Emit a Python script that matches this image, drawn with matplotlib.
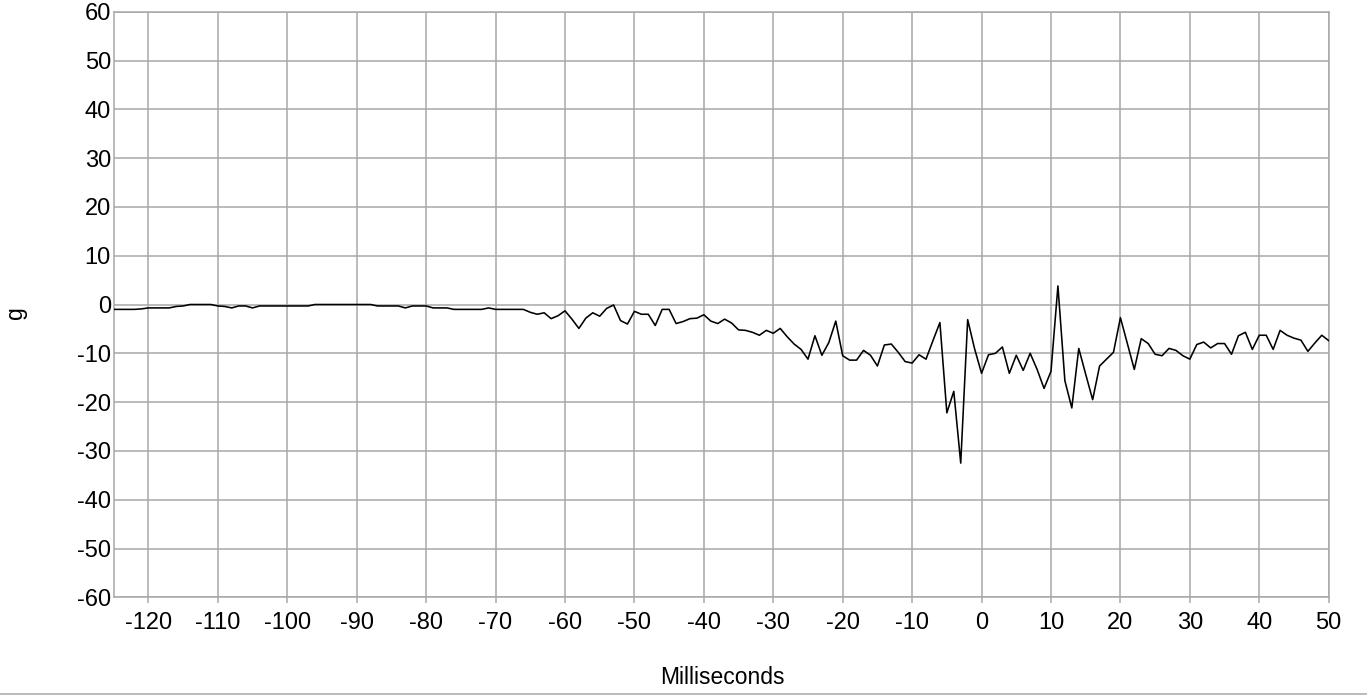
import matplotlib
matplotlib.use("Agg")
import matplotlib.pyplot as plt
from matplotlib.lines import Line2D
import numpy as np

plt.rcParams['font.family'] = ['Liberation Sans', 'DejaVu Sans']

# time axis in milliseconds (1 ms sampling)
t_start = -125
t_end = 50
accel_g = [
    # -125 .. -116
    -1.0, -1.0, -1.0, -1.0, -0.9, -0.7, -0.7, -0.7, -0.7, -0.4,
    # -115 .. -106
    -0.3, 0.0, 0.0, 0.0, 0.0, -0.3, -0.4, -0.7, -0.3, -0.3,
    # -105 .. -96
    -0.7, -0.3, -0.3, -0.3, -0.3, -0.3, -0.3, -0.3, -0.3, 0.0,
    # -95 .. -86
    0.0, 0.0, 0.0, 0.0, 0.0, 0.0, 0.0, 0.0, -0.3, -0.3,
    # -85 .. -76
    -0.3, -0.3, -0.7, -0.3, -0.3, -0.3, -0.7, -0.7, -0.7, -1.0,
    # -75 .. -66
    -1.0, -1.0, -1.0, -1.0, -0.7, -1.0, -1.0, -1.0, -1.0, -1.0,
    # -65 .. -56
    -1.6, -2.0, -1.7, -2.9, -2.3, -1.3, -3.0, -4.9, -2.8, -1.7,
    # -55 .. -46
    -2.4, -0.8, -0.1, -3.3, -4.0, -1.4, -2.0, -2.0, -4.3, -1.0,
    # -45 .. -36
    -1.0, -3.9, -3.5, -2.9, -2.8, -2.1, -3.4, -3.9, -3.0, -3.8,
    # -35 .. -26
    -5.2, -5.3, -5.7, -6.3, -5.3, -5.9, -4.9, -6.6, -8.1, -9.2,
    # -25 .. -16
    -11.2, -6.4, -10.4, -7.8, -3.4, -10.5, -11.4, -11.4, -9.4, -10.4,
    # -15 .. -6
    -12.6, -8.3, -8.1, -9.8, -11.7, -12.0, -10.3, -11.2, -7.4, -3.7,
    # -5 .. 4
    -22.2, -17.8, -32.5, -3.1, -9.1, -14.1, -10.3, -10.0, -8.7, -14.1,
    # 5 .. 14
    -10.4, -13.5, -10.0, -13.3, -17.2, -13.7, 3.8, -15.6, -21.2, -9.0,
    # 15 .. 24
    -14.3, -19.5, -12.6, -11.2, -9.8, -2.7, -8.0, -13.3, -7.0, -8.0,
    # 25 .. 34
    -10.2, -10.5, -9.0, -9.4, -10.5, -11.2, -8.2, -7.7, -8.9, -8.0,
    # 35 .. 44
    -8.0, -10.2, -6.4, -5.7, -9.2, -6.3, -6.3, -9.2, -5.3, -6.3,
    # 45 .. 50
    -6.9, -7.3, -9.6, -7.9, -6.3, -7.4,
]
time_ms = list(range(t_start, t_end + 1))

x_ticks = list(range(-120, 51, 10))
y_ticks = list(range(-60, 61, 10))
x_label = "Milliseconds"
y_label = "g"

W, H = 1367, 696
fig = plt.figure(figsize=(W / 100, H / 100), dpi=100)
ax = fig.add_axes([113.7 / W, 1 - 597.3 / H, (1328.7 - 113.7) / W, (597.3 - 11.7) / H])

grid_c = '#a8a8a8'
ax.plot(time_ms, accel_g, color='black', linewidth=1.15, zorder=3)
ax.set_xlim(-125, 50)
ax.set_ylim(-60, 60)
ax.set_xticks(x_ticks)
ax.set_yticks(y_ticks)
ax.set_xticklabels([str(v) for v in x_ticks])
ax.set_yticklabels([str(v) for v in y_ticks])
ax.grid(True, color=grid_c, linewidth=1.1, zorder=1)
for s in ax.spines.values():
    s.set_color(grid_c)
    s.set_linewidth(1.1)
ax.tick_params(axis='x', length=4.3, width=1.1, color=grid_c, pad=6.5, labelsize=17)
ax.tick_params(axis='y', length=0, pad=2, labelsize=17)

fig.text(722 / W, 1 - 677 / H, x_label, ha='center', va='center', fontsize=16.5)
fig.text(15 / W, 1 - 313 / H, y_label, ha='center', va='center', fontsize=16.5, rotation=90)

# thin frame line at the bottom edge of the picture
fig.add_artist(Line2D([0, 1], [1 - 694 / H, 1 - 694 / H], transform=fig.transFigure,
                      color=grid_c, linewidth=1.1))

fig.savefig('out.png', dpi=100)
